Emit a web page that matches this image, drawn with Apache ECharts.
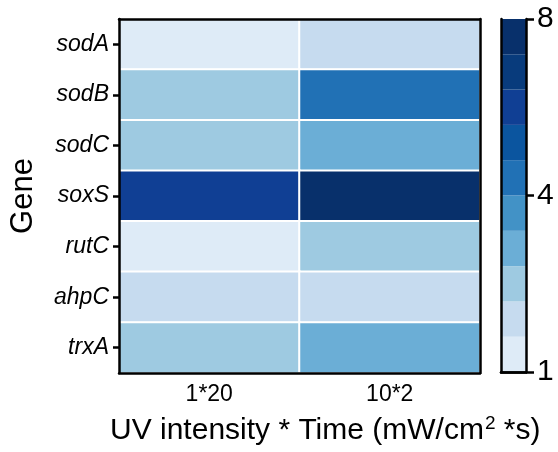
<!DOCTYPE html>
<html>
<head>
<meta charset="utf-8">
<script src="https://cdn.jsdelivr.net/npm/echarts@6/dist/echarts.min.js"></script>
<style>
  html, body { margin: 0; padding: 0; background: #fff; }
  #chart { width: 558px; height: 452px; }
</style>
</head>
<body>
<div id="chart"></div>
<script>
// genes top to bottom, treatments left to right
var genes = ["sodA", "sodB", "sodC", "soxS", "rutC", "ahpC", "trxA"];
var treatments = ["1*20", "10*2"];
var val_1x20 = [1.3, 2.5, 2.5, 6.0, 1.3, 1.9, 2.5];
var val_10x2 = [1.9, 4.4, 3.1, 7.6, 2.5, 1.9, 3.1];

// colour bar: bin edges, colours (low -> high), labelled ticks
var binEdges = [1, 1.6, 2.2, 2.8, 3.4, 4, 4.8, 5.6, 6.4, 7.2, 8];
var binColors = ["#deebf7", "#c6dbef", "#9ecae1", "#6baed6", "#4292c6",
                 "#2171b5", "#0b559f", "#103f94", "#083b7c", "#08306b"];
var barTickLabels = { 0: "1", 5: "4", 10: "8" };

var FONT = "Liberation Sans, Arial, sans-serif";

var heatData = [];
genes.forEach(function (g, i) {
  heatData.push([0, i, val_1x20[i]]);
  heatData.push([1, i, val_10x2[i]]);
});

var pieces = binColors.map(function (c, i) {
  return { gte: binEdges[i], lt: binEdges[i + 1], color: c };
});
pieces[pieces.length - 1].lte = binEdges[binEdges.length - 1];
delete pieces[pieces.length - 1].lt;

// one stacked segment per bin for the colour bar
var barSeries = binColors.map(function (c) {
  return {
    type: "bar", xAxisIndex: 2, yAxisIndex: 2, stack: "cb",
    barWidth: "100%", data: [1], itemStyle: { color: c }, silent: true
  };
});

var lineStyle = { color: "#000", width: 2.5 };

var chart = echarts.init(document.getElementById("chart"));
chart.setOption({
  animation: false,
  textStyle: { fontFamily: FONT },
  grid: [
    { left: 116, top: 19, width: 364, height: 354 },
    { left: 501, top: 19, width: 25, height: 353 }
  ],
  title: {
    text: "UV intensity * Time (mW/cm{sup|2} *s)",
    left: 105, top: 409,
    textStyle: {
      fontFamily: FONT, fontSize: 30, fontWeight: "normal", color: "#000",
      rich: { sup: { fontSize: 19, verticalAlign: "top", padding: [0, 0, 15, 1], color: "#000", fontFamily: FONT } }
    }
  },
  visualMap: { type: "piecewise", show: false, seriesIndex: 0, pieces: pieces },
  xAxis: [
    {
      type: "category", gridIndex: 0, data: treatments, z: 10,
      axisLine: { lineStyle: lineStyle }, axisTick: { show: false },
      axisLabel: { color: "#000", fontSize: 23, margin: 10 }
    },
    {
      type: "category", gridIndex: 0, position: "top", data: treatments, z: 10,
      axisLine: { lineStyle: lineStyle }, axisTick: { show: false }, axisLabel: { show: false }
    },
    {
      type: "category", gridIndex: 1, data: ["c"], z: 10,
      axisLine: { lineStyle: lineStyle }, axisTick: { show: false }, axisLabel: { show: false }
    },
    {
      type: "category", gridIndex: 1, position: "top", data: ["c"], z: 10,
      axisLine: { lineStyle: lineStyle }, axisTick: { show: false }, axisLabel: { show: false }
    }
  ],
  yAxis: [
    {
      type: "category", gridIndex: 0, data: genes, inverse: true, z: 10,
      name: "Gene", nameLocation: "middle", nameGap: 80, nameRotate: 90,
      nameTextStyle: { fontSize: 31, color: "#000" },
      axisLine: { lineStyle: lineStyle },
      axisTick: { show: true, length: 6, lineStyle: { color: "#000", width: 2.5 }, alignWithLabel: true },
      axisLabel: { color: "#000", fontSize: 23, fontStyle: "italic", margin: 10 }
    },
    {
      type: "category", gridIndex: 0, position: "right", data: genes, inverse: true, z: 10,
      axisLine: { lineStyle: lineStyle }, axisTick: { show: false }, axisLabel: { show: false }
    },
    {
      type: "value", gridIndex: 1, position: "right", min: 0, max: 10, interval: 5, z: 10,
      splitLine: { show: false },
      axisLine: { show: true, lineStyle: lineStyle },
      axisTick: { show: true, length: 8, lineStyle: { color: "#000", width: 2.5 } },
      axisLabel: {
        color: "#000", fontSize: 30, margin: 11,
        formatter: function (v) { return barTickLabels[v] || ""; }
      }
    },
    {
      type: "value", gridIndex: 1, position: "left", min: 0, max: 10, z: 10,
      splitLine: { show: false }, axisLine: { show: true, lineStyle: lineStyle },
      axisTick: { show: false }, axisLabel: { show: false }
    }
  ],
  series: [
    {
      type: "heatmap", xAxisIndex: 0, yAxisIndex: 0, data: heatData,
      itemStyle: { borderColor: "#fff", borderWidth: 2 },
      emphasis: { disabled: true }
    }
  ].concat(barSeries)
});
</script>
</body>
</html>
